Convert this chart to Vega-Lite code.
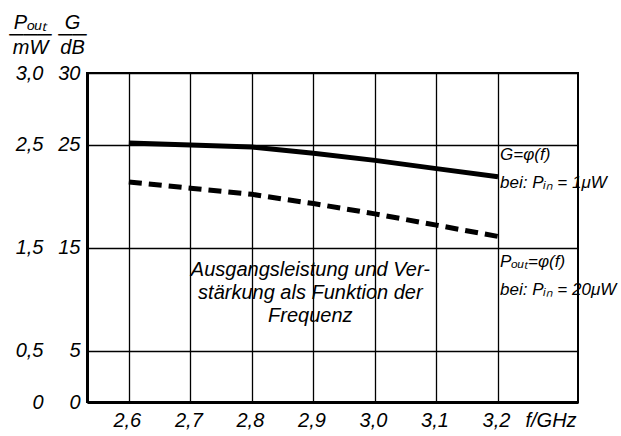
{
  "$schema": "https://vega.github.io/schema/vega-lite/v6.json",
  "autosize": "none",
  "width": 491,
  "height": 329,
  "padding": {"left": 87, "top": 73, "right": 43, "bottom": 34},
  "background": "white",
  "config": {
    "font": "Liberation Sans",
    "view": {"stroke": "black", "strokeWidth": 2},
    "axis": {
      "labelFontSize": 20,
      "labelFontStyle": "italic",
      "labelColor": "black",
      "titleFontSize": 20,
      "titleFontStyle": "italic",
      "titleFontWeight": "normal",
      "titleColor": "black",
      "ticks": false,
      "gridColor": "black",
      "gridOpacity": 1,
      "gridWidth": 1.3,
      "domainColor": "black",
      "domainWidth": 3
    }
  },
  "datasets": {
    "curves": [
      {"f": 2.6, "G": 25.2, "Pout": 2.14},
      {"f": 2.7, "G": 25.0, "Pout": 2.08},
      {"f": 2.8, "G": 24.8, "Pout": 2.02},
      {"f": 2.9, "G": 24.2, "Pout": 1.93},
      {"f": 3.0, "G": 23.5, "Pout": 1.83},
      {"f": 3.1, "G": 22.7, "Pout": 1.72},
      {"f": 3.2, "G": 21.9, "Pout": 1.61}
    ]
  },
  "layer": [
    {
      "data": {"name": "curves"},
      "mark": {"type": "line", "color": "black", "strokeWidth": 5, "strokeCap": "butt"},
      "encoding": {
        "x": {
          "field": "f", "type": "quantitative",
          "scale": {"domain": [2.532, 3.33], "nice": false, "zero": false},
          "axis": {
            "values": [2.6, 2.7, 2.8, 2.9, 3.0, 3.1, 3.2],
            "labelExpr": "replace(format(datum.value, '.1f'), '.', ',')",
            "labelPadding": 8,
            "labelOffset": -2,
            "grid": true,
            "title": "f/GHz",
            "titleAlign": "left",
            "titleBaseline": "top",
            "titleX": 438,
            "titleY": 8
          }
        },
        "y": {
          "field": "G", "type": "quantitative",
          "scale": {"domain": [0, 32], "nice": false},
          "axis": {
            "orient": "left",
            "values": [0, 5, 15, 25, 32],
            "labelExpr": "datum.value == 32 ? '30' : '' + datum.value",
            "labelPadding": 7,
            "grid": true,
            "title": ["G", "──", "dB"],
            "titleAngle": 0,
            "titleAlign": "center",
            "titleBaseline": "alphabetic",
            "titleLineHeight": 12.5,
            "titleX": -15,
            "titleY": -45
          }
        }
      }
    },
    {
      "data": {"name": "curves"},
      "mark": {"type": "line", "color": "black", "strokeWidth": 5, "strokeCap": "butt", "strokeDash": [13, 7]},
      "encoding": {
        "x": {"field": "f", "type": "quantitative", "scale": {"domain": [2.532, 3.33], "nice": false, "zero": false}},
        "y": {
          "field": "Pout", "type": "quantitative",
          "scale": {"domain": [0, 3.2], "nice": false},
          "axis": {
            "orient": "left",
            "offset": 37,
            "values": [0, 0.5, 1.5, 2.5, 3.2],
            "labelExpr": "datum.value == 3.2 ? '3,0' : datum.value == 0 ? '0' : replace(format(datum.value, '.1f'), '.', ',')",
            "labelPadding": 7,
            "domain": false,
            "grid": false,
            "title": ["Pₒᵤₜ", "───", "mW"],
            "titleAngle": 0,
            "titleAlign": "center",
            "titleBaseline": "alphabetic",
            "titleLineHeight": 12.5,
            "titleX": -20,
            "titleY": -45
          }
        }
      }
    },
    {
      "data": {"values": [
        {"f": 3.2, "y": 24.8, "label": "G=φ(f)\nbei: Pᵢₙ = 1μW"},
        {"f": 3.2, "y": 14.4, "label": "Pₒᵤₜ=φ(f)\nbei: Pᵢₙ = 20μW"}
      ]},
      "mark": {"type": "text", "align": "left", "baseline": "top", "dx": 2, "fontSize": 17, "fontStyle": "italic", "lineHeight": 28, "lineBreak": "\n", "color": "black"},
      "encoding": {
        "x": {"field": "f", "type": "quantitative", "scale": {"domain": [2.532, 3.33], "nice": false, "zero": false}},
        "y": {"field": "y", "type": "quantitative", "scale": {"domain": [0, 32], "nice": false}, "axis": null},
        "text": {"field": "label"}
      }
    },
    {
      "data": {"values": [
        {"f": 2.895, "y": 13.8, "label": "Ausgangsleistung und Ver-\nstärkung als Funktion der\nFrequenz"}
      ]},
      "mark": {"type": "text", "align": "center", "baseline": "top", "fontSize": 20, "fontStyle": "italic", "lineHeight": 23, "lineBreak": "\n", "color": "black"},
      "encoding": {
        "x": {"field": "f", "type": "quantitative", "scale": {"domain": [2.532, 3.33], "nice": false, "zero": false}},
        "y": {"field": "y", "type": "quantitative", "scale": {"domain": [0, 32], "nice": false}, "axis": null},
        "text": {"field": "label"}
      }
    }
  ],
  "resolve": {"scale": {"y": "independent"}, "axis": {"y": "independent"}}
}
